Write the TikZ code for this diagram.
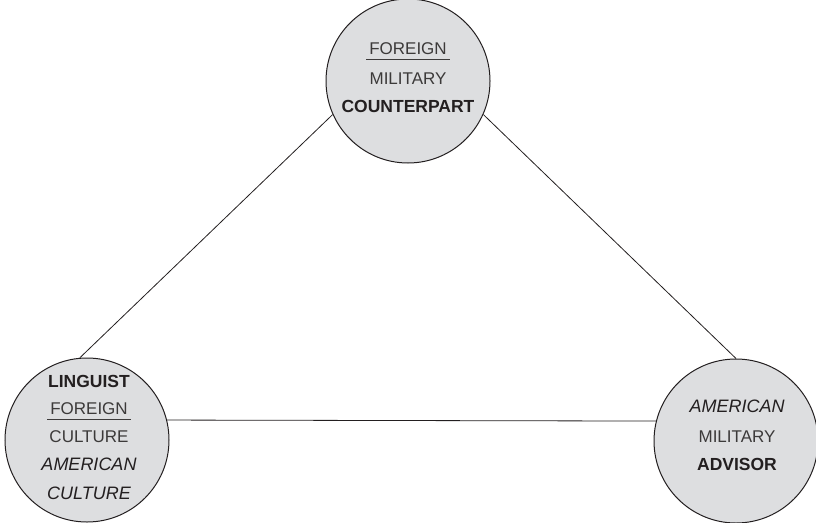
\documentclass[tikz,border=0pt]{standalone}
\usepackage{fontspec}
\setmainfont{Liberation Sans}
\definecolor{circfill}{RGB}{221,222,224}
\definecolor{ink}{RGB}{35,31,32}
\definecolor{softink}{RGB}{60,58,58}
\begin{document}
\begin{tikzpicture}[x=1pt,y=-1pt,
  party/.style={circle, draw=ink, line width=1pt, fill=circfill, minimum size=164pt, inner sep=0pt},
  lbl/.style={font=\fontsize{17}{17}\selectfont, text=softink, inner sep=0pt, anchor=base},
  bld/.style={lbl, font=\fontsize{17.5}{17.5}\selectfont\bfseries, text=ink},
  itl/.style={lbl, font=\fontsize{18}{18}\selectfont\itshape, text=ink},
  link/.style={draw=ink, line width=0.8pt},
  rulel/.style={draw=softink, line width=0.6pt}]
\useasboundingbox (0,0) rectangle (816,522);
\node[party] (top) at (408,81) {};
\node[party] (bl) at (87,440) {};
\node[party] (br) at (736,441) {};
\draw[link] (top.204) -- (bl.95);
\draw[link] (top.-24) -- (br.90);
\draw[link] (bl.14) -- (br.166);
% top labels
\node[lbl] (t1) at (408,54) {FOREIGN};
\node[lbl] (t2) at (408,84) {MILITARY};
\node[bld] (t3) at (408,112) {COUNTERPART};
\draw[rulel] ([xshift=-3pt,yshift=-5.5pt]t1.base west) -- ([xshift=3pt,yshift=-5.5pt]t1.base east);
% bottom-left labels
\node[bld] (l1) at (89,387) {LINGUIST};
\node[lbl] (l2) at (89,414) {FOREIGN};
\node[lbl] (l3) at (89,442) {CULTURE};
\node[itl] (l4) at (89,470) {AMERICAN};
\node[itl] (l5) at (89,499) {CULTURE};
\draw[rulel] ([xshift=-3pt,yshift=-5.5pt]l2.base west) -- ([xshift=3pt,yshift=-5.5pt]l2.base east);
% bottom-right labels
\node[itl] (r1) at (737,412) {AMERICAN};
\node[lbl] (r2) at (737,442) {MILITARY};
\node[bld] (r3) at (737,470) {ADVISOR};
\end{tikzpicture}
\end{document}
